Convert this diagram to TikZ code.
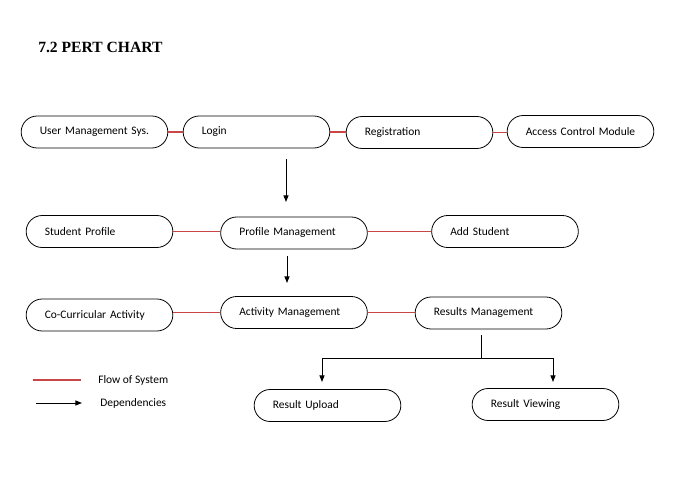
\documentclass[tikz,border=0pt]{standalone}
\usepackage{fontspec}
\setmainfont{Liberation Serif}
\newfontfamily\calibrifont{Carlito}
\usepackage{tikz}
\usetikzlibrary{arrows.meta}

\begin{document}
\begin{tikzpicture}[x=0.75pt,y=0.75pt,yscale=-1,xscale=1,
  pertbox/.style={draw,line width=0.6pt,rounded corners=12pt,minimum height=24pt,
    text width=82pt,inner xsep=14pt,align=left,font=\calibrifont\fontsize{8.6}{10}\selectfont},
  flowline/.style={draw={rgb,255:red,200;green,70;blue,70},line width=0.9pt},
  depline/.style={draw=black,line width=0.75pt,-{Triangle[length=5pt,width=3.8pt]}},
  legendtxt/.style={anchor=west,inner sep=0.75pt,font=\calibrifont\fontsize{8.6}{10}\selectfont}]
\useasboundingbox (0,0) rectangle (683,482);

% Text Node
\node [anchor=west,inner sep=0pt,font=\bfseries\fontsize{11.7}{13}\selectfont] (title) at (38,47) {7.2 PERT CHART};

%Shape: Rounded Rectangles
\node [pertbox] (ums) at (94.5,132) {User Management Sys.};
\node [pertbox] (login) at (256.5,132) {Login};
\node [pertbox] (reg) at (419.5,132.5) {Registration};
\node [pertbox] (acm) at (580.5,131.5) {Access Control Module};
\node [pertbox] (sp) at (99.5,231.5) {Student Profile};
\node [pertbox] (pm) at (294,233) {Profile Management};
\node [pertbox] (as) at (505,231.5) {Add Student};
\node [pertbox] (cca) at (99.5,315) {Co-Curricular Activity};
\node [pertbox] (am) at (294,312.5) {Activity Management};
\node [pertbox] (rm) at (488.5,313) {Results Management};
\node [pertbox] (ru) at (327.5,405.5) {Result Upload};
\node [pertbox] (rv) at (545.5,404.5) {Result Viewing};

%Straight Lines
\draw [flowline] (ums.east) -- (ums.east -| login.west);
\draw [flowline] (login.east) -- (login.east -| reg.west);
\draw [flowline] (reg.east) -- (reg.east -| acm.west);
\draw [flowline] (sp.east) -- (sp.east -| pm.west);
\draw [flowline] (pm.east |- as.west) -- (as.west);
\draw [flowline] (am.west -| cca.east) -- (am.west);
\draw [flowline] (am.east) -- (am.east -| rm.west);

%Arrows
\coordinate (dA1) at (286,159);
\coordinate (dA2) at (286,202);
\coordinate (dB1) at (287,256);
\coordinate (dB2) at (287,283);
\coordinate (br0) at (481,335);
\coordinate (br1) at (481,358);
\coordinate (brL) at (322,358);
\coordinate (brR) at (553,358);
\coordinate (tipL) at (322,382);
\coordinate (tipR) at (553,382);
\draw [depline] (dA1) -- (dA2);
\draw [depline] (dB1) -- (dB2);
\draw [line width=0.75pt] (br0) -- (br1);
\draw [depline] (br1) -- (brL) -- (tipL);
\draw [depline] (br1) -- (brR) -- (tipR);

%Legend
\coordinate (lgA) at (33,380);
\coordinate (lgB) at (81,380);
\coordinate (lgC) at (36,403);
\coordinate (lgD) at (82,403);
\draw [flowline] (lgA) -- (lgB);
\draw [depline] (lgC) -- (lgD);
% Text Node
\node [legendtxt] (lgflow) at (97,380) {Flow of System};
% Text Node
\node [legendtxt] (lgdep) at (99,403) {Dependencies};
\end{tikzpicture}
\end{document}
